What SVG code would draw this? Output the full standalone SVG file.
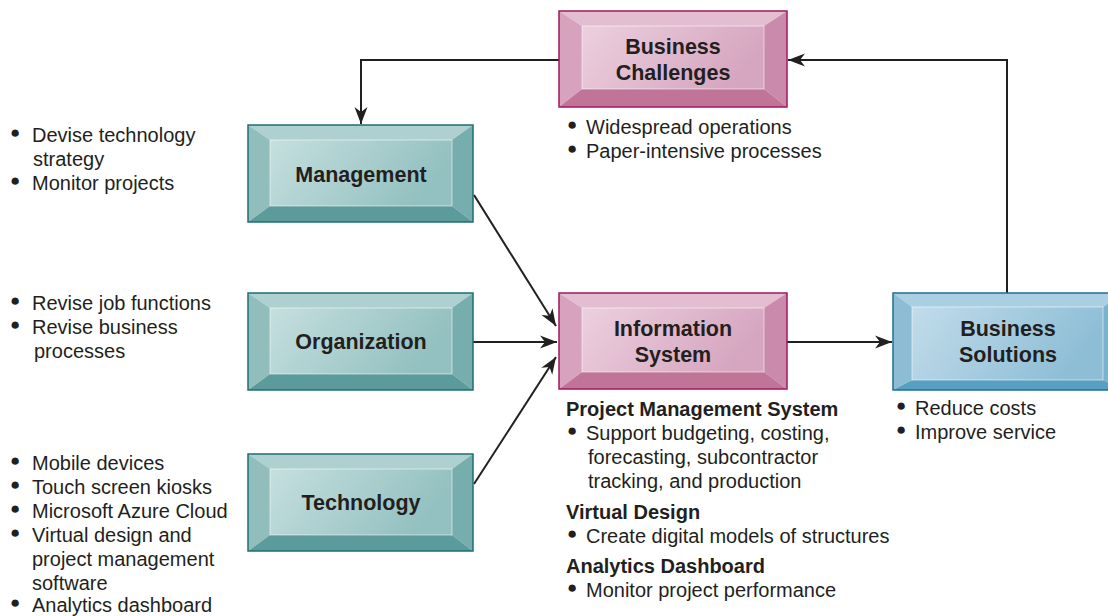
<svg xmlns="http://www.w3.org/2000/svg" width="1108" height="616" viewBox="0 0 1108 616">
<defs>
<linearGradient id="gPink" x1="0" y1="0" x2="1" y2="0.3"><stop offset="0" stop-color="#ecd0de"/><stop offset="1" stop-color="#d6a6c0"/></linearGradient>
<linearGradient id="gTeal" x1="0" y1="0" x2="1" y2="0.3"><stop offset="0" stop-color="#c6dfdf"/><stop offset="1" stop-color="#93c0c0"/></linearGradient>
<linearGradient id="gBlue" x1="0" y1="0" x2="1" y2="0.3"><stop offset="0" stop-color="#c2dcea"/><stop offset="1" stop-color="#8dbed6"/></linearGradient>
<marker id="arr" markerUnits="userSpaceOnUse" markerWidth="18" markerHeight="14" viewBox="0 -7 18 14" refX="17" refY="0" orient="auto">
<path d="M0,-6.5 L17,0 L0,6.5 L5,0 Z" fill="#231f20"/>
</marker>
<style>
.lbl{font-family:"Liberation Sans",Arial,Helvetica,sans-serif;font-weight:bold;font-size:21.5px;fill:#231f20;text-anchor:middle}
.txt{font-family:"Liberation Sans",Arial,Helvetica,sans-serif;font-size:20px;fill:#231f20}
.hd{font-family:"Liberation Sans",Arial,Helvetica,sans-serif;font-size:20px;font-weight:bold;fill:#231f20}
.bul{font-size:17px}
.edge{fill:none;stroke:#231f20;stroke-width:2;marker-end:url(#arr)}
.inner{stroke:#ffffff;stroke-opacity:0.55;stroke-width:1}
.pink .t{fill:#e3bdd0}.pink .l{fill:#d6a2be}.pink .r{fill:#c98aab}.pink .b{fill:#c07598}.pink .o{fill:none;stroke:#a3175c;stroke-width:1.5}.pink .inner{fill:url(#gPink)}
.teal .t{fill:#aed0d0}.teal .l{fill:#91bdbd}.teal .r{fill:#76adad}.teal .b{fill:#5b9b9b}.teal .o{fill:none;stroke:#1f6f70;stroke-width:1.5}.teal .inner{fill:url(#gTeal)}
.blue .t{fill:#aacfe2}.blue .l{fill:#8dbdd5}.blue .r{fill:#7ab3cd}.blue .b{fill:#58a0c2}.blue .o{fill:none;stroke:#1f6f96;stroke-width:1.5}.blue .inner{fill:url(#gBlue)}
</style>
</defs>
<rect width="1108" height="616" fill="#ffffff"/>

<g id="connectors">
<path class="edge" d="M559,60 H361 V124"/>
<path class="edge" d="M1007,293 V60 H788"/>
<path class="edge" d="M787,342 H892"/>
<path class="edge" d="M474,195 L556,326"/>
<path class="edge" d="M473,342 H557"/>
<path class="edge" d="M474,484 L556,357"/>
</g>

<g id="business-challenges" class="pink" transform="translate(559,11)">
<polygon class="t" points="0,0 228,0 205,15 23,15"/>
<polygon class="l" points="0,0 23,15 23,78 0,96"/>
<polygon class="r" points="228,0 228,96 205,78 205,15"/>
<polygon class="b" points="0,96 23,78 205,78 228,96"/>
<rect class="inner" x="23" y="15" width="182" height="63"/>
<rect class="o" x="0" y="0" width="228" height="96"/>
<text class="lbl" x="114" y="43">Business</text>
<text class="lbl" x="114" y="69">Challenges</text>
</g>

<g id="management" class="teal" transform="translate(248,125)">
<polygon class="t" points="0,0 225,0 204,15 22,15"/>
<polygon class="l" points="0,0 22,15 22,81 0,97"/>
<polygon class="r" points="225,0 225,97 204,81 204,15"/>
<polygon class="b" points="0,97 22,81 204,81 225,97"/>
<rect class="inner" x="22" y="15" width="182" height="66"/>
<rect class="o" x="0" y="0" width="225" height="97"/>
<text class="lbl" x="113" y="57">Management</text>
</g>

<g id="organization" class="teal" transform="translate(248,293)">
<polygon class="t" points="0,0 225,0 204,15 22,15"/>
<polygon class="l" points="0,0 22,15 22,81 0,97"/>
<polygon class="r" points="225,0 225,97 204,81 204,15"/>
<polygon class="b" points="0,97 22,81 204,81 225,97"/>
<rect class="inner" x="22" y="15" width="182" height="66"/>
<rect class="o" x="0" y="0" width="225" height="97"/>
<text class="lbl" x="113" y="56">Organization</text>
</g>

<g id="technology" class="teal" transform="translate(248,454)">
<polygon class="t" points="0,0 225,0 204,15 22,15"/>
<polygon class="l" points="0,0 22,15 22,81 0,97"/>
<polygon class="r" points="225,0 225,97 204,81 204,15"/>
<polygon class="b" points="0,97 22,81 204,81 225,97"/>
<rect class="inner" x="22" y="15" width="182" height="66"/>
<rect class="o" x="0" y="0" width="225" height="97"/>
<text class="lbl" x="113" y="56">Technology</text>
</g>

<g id="information-system" class="pink" transform="translate(559,293)">
<polygon class="t" points="0,0 228,0 205,15 23,15"/>
<polygon class="l" points="0,0 23,15 23,79 0,96"/>
<polygon class="r" points="228,0 228,96 205,79 205,15"/>
<polygon class="b" points="0,96 23,79 205,79 228,96"/>
<rect class="inner" x="23" y="15" width="182" height="64"/>
<rect class="o" x="0" y="0" width="228" height="96"/>
<text class="lbl" x="114" y="43">Information</text>
<text class="lbl" x="114" y="69">System</text>
</g>

<g id="business-solutions" class="blue" transform="translate(893,293)">
<polygon class="t" points="0,0 230,0 210,14 19,14"/>
<polygon class="l" points="0,0 19,14 19,87 0,97"/>
<polygon class="r" points="230,0 230,97 210,87 210,14"/>
<polygon class="b" points="0,97 19,87 210,87 230,97"/>
<rect class="inner" x="19" y="14" width="191" height="73"/>
<rect class="o" x="0" y="0" width="230" height="97"/>
<text class="lbl" x="115" y="43">Business</text>
<text class="lbl" x="115" y="69">Solutions</text>
</g>

<g id="management-notes">
<text class="txt" x="10" y="138"><tspan class="bul">●</tspan><tspan x="32" dy="4">Devise technology</tspan></text>
<text class="txt" x="33" y="166">strategy</text>
<text class="txt" x="10" y="186"><tspan class="bul">●</tspan><tspan x="32" dy="4">Monitor projects</tspan></text>
</g>

<g id="organization-notes">
<text class="txt" x="10" y="306"><tspan class="bul">●</tspan><tspan x="32" dy="4">Revise job functions</tspan></text>
<text class="txt" x="10" y="330"><tspan class="bul">●</tspan><tspan x="32" dy="4">Revise business</tspan></text>
<text class="txt" x="34" y="358">processes</text>
</g>

<g id="technology-notes">
<text class="txt" x="10" y="466"><tspan class="bul">●</tspan><tspan x="32" dy="4">Mobile devices</tspan></text>
<text class="txt" x="10" y="490"><tspan class="bul">●</tspan><tspan x="32" dy="4">Touch screen kiosks</tspan></text>
<text class="txt" x="10" y="514"><tspan class="bul">●</tspan><tspan x="32" dy="4">Microsoft Azure Cloud</tspan></text>
<text class="txt" x="10" y="538"><tspan class="bul">●</tspan><tspan x="32" dy="4">Virtual design and</tspan></text>
<text class="txt" x="32" y="566">project management</text>
<text class="txt" x="32" y="590">software</text>
<text class="txt" x="10" y="608"><tspan class="bul">●</tspan><tspan x="32" dy="4">Analytics dashboard</tspan></text>
</g>

<g id="challenges-notes">
<text class="txt" x="567" y="130"><tspan class="bul">●</tspan><tspan x="586" dy="4">Widespread operations</tspan></text>
<text class="txt" x="567" y="154"><tspan class="bul">●</tspan><tspan x="586" dy="4">Paper-intensive processes</tspan></text>
</g>

<g id="system-notes">
<text class="hd" x="566" y="416">Project Management System</text>
<text class="txt" x="567" y="436"><tspan class="bul">●</tspan><tspan x="586" dy="4">Support budgeting, costing,</tspan></text>
<text class="txt" x="588" y="464">forecasting, subcontractor</text>
<text class="txt" x="588" y="488">tracking, and production</text>
<text class="hd" x="566" y="519">Virtual Design</text>
<text class="txt" x="567" y="539"><tspan class="bul">●</tspan><tspan x="586" dy="4">Create digital models of structures</tspan></text>
<text class="hd" x="566" y="573">Analytics Dashboard</text>
<text class="txt" x="567" y="593"><tspan class="bul">●</tspan><tspan x="586" dy="4">Monitor project performance</tspan></text>
</g>

<g id="solutions-notes">
<text class="txt" x="896" y="411"><tspan class="bul">●</tspan><tspan x="915" dy="4">Reduce costs</tspan></text>
<text class="txt" x="896" y="435"><tspan class="bul">●</tspan><tspan x="915" dy="4">Improve service</tspan></text>
</g>
</svg>
